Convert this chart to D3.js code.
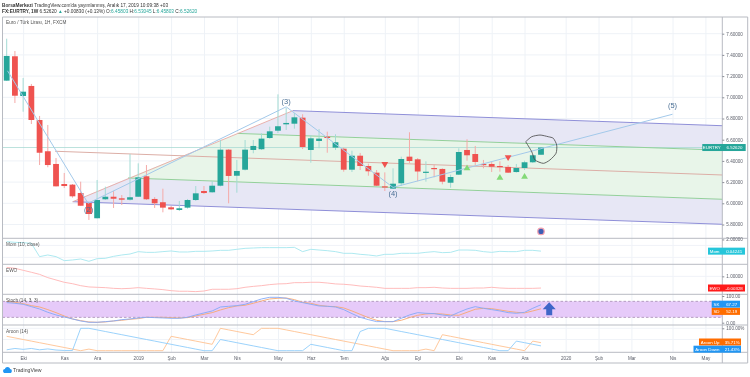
<!DOCTYPE html>
<html>
<head>
<meta charset="utf-8">
<script src="https://cdn.jsdelivr.net/npm/d3@7"></script>
<style>
  html, body { margin: 0; padding: 0; background: #fff; }
  svg { display: block; filter: blur(0.3px); }
  text { font-family: "Liberation Sans", Arial, sans-serif; }
</style>
</head>
<body>
<div id="chart"></div>
<script>
// weekly candles
var open = [7.157,7.387,7.012,7.107,6.786,6.491,6.371,6.182,6.176,6.097,6.003,5.859,6.038,6.062,6.047,6.034,6.062,6.255,6.041,6.010,5.962,5.937,5.959,6.031,6.116,6.104,6.166,6.506,6.260,6.317,6.503,6.510,6.616,6.685,6.745,6.751,6.808,6.503,6.588,6.628,6.525,6.515,6.317,6.449,6.352,6.289,6.160,6.138,6.189,6.440,6.415,6.289,6.333,6.324,6.194,6.270,6.503,6.465,6.371,6.371,6.352,6.343,6.295,6.333,6.387,6.45803];
var high = [7.553,7.437,7.182,7.126,6.824,6.739,6.427,6.286,6.182,6.204,6.003,6.220,6.157,6.116,6.078,6.465,6.377,6.361,6.059,6.138,5.975,6.022,6.041,6.163,6.163,6.210,6.597,6.512,6.409,6.597,6.597,6.660,6.723,7.028,6.899,6.852,6.840,6.644,6.701,6.676,6.651,6.525,6.496,6.475,6.374,6.314,6.292,6.330,6.440,6.670,6.427,6.396,6.364,6.330,6.270,6.519,6.604,6.541,6.409,6.392,6.396,6.361,6.371,6.402,6.456,6.53045];
var low = [7.154,6.946,6.864,6.748,6.361,6.340,6.159,6.144,6.053,5.977,5.843,5.857,6.031,5.956,5.984,6.026,6.059,6.031,5.956,5.915,5.937,5.927,5.950,6.022,6.088,6.100,6.159,6.000,6.100,6.310,6.472,6.503,6.607,6.663,6.692,6.704,6.512,6.383,6.519,6.477,6.503,6.298,6.295,6.314,6.260,6.163,6.116,6.135,6.163,6.380,6.208,6.204,6.245,6.179,6.147,6.267,6.402,6.358,6.330,6.295,6.298,6.286,6.289,6.314,6.380,6.45803];
var close = [7.390,7.015,7.053,6.786,6.477,6.361,6.160,6.163,6.066,5.977,5.899,6.031,6.062,6.043,6.034,6.057,6.245,6.038,6.000,5.959,5.943,5.953,6.031,6.094,6.097,6.166,6.506,6.258,6.305,6.506,6.541,6.610,6.679,6.727,6.758,6.811,6.531,6.613,6.610,6.616,6.576,6.317,6.449,6.352,6.302,6.166,6.154,6.185,6.418,6.399,6.300,6.298,6.324,6.204,6.248,6.484,6.453,6.390,6.364,6.345,6.343,6.289,6.333,6.387,6.453,6.52620];

var momValues = [1.63,1.52,1.46,1.35,-0.88,-0.60,-0.88,-1.55,-1.44,-1.27,-1.66,-1.22,-1.16,-0.83,-0.60,-0.44,-0.04,-0.16,-0.16,-0.04,0.07,-0.10,-0.10,0.01,0.01,0.07,0.18,0.18,0.35,0.51,0.57,0.63,0.63,0.63,0.63,0.68,-0.04,0.35,0.23,0.12,-0.04,-0.32,-0.32,-0.49,-0.60,-0.77,-0.49,-0.49,-0.32,-0.32,-0.32,-0.16,-0.04,-0.21,-0.16,0.23,0.23,0.18,-0.04,-0.16,0.01,-0.04,-0.04,0.18,0.18,0.04241];
var ewoValues = [1.77,1.69,1.52,1.35,1.17,0.89,0.69,0.49,0.37,0.20,0.09,0.06,0.03,-0.03,-0.06,-0.03,0.03,-0.03,-0.08,-0.14,-0.23,-0.28,-0.28,-0.31,-0.26,-0.11,-0.11,-0.11,-0.06,0.06,0.14,0.20,0.29,0.35,0.37,0.46,0.46,0.49,0.49,0.43,0.35,0.32,0.26,0.17,0.12,0.06,-0.03,-0.03,-0.03,-0.03,0.03,0.03,0.06,0,-0.03,-0.03,-0.03,0,0,0.06,0,-0.03,-0.03,-0.03,-0.03,-0.00328];
var stochK = [75.2,72.7,68.9,60.2,51.4,39,29,21.5,14,6.5,1.5,1.5,4,6.5,11.5,14,17.8,20.2,19,17.8,16.5,16.5,20.2,29,36.5,44,58.9,61.4,63.9,68.9,78.9,88.9,95.1,95.1,91.4,81.4,75.2,68.9,62.7,61.4,58.9,49,34,20.2,11.5,4,4,4,16.5,29,37.7,35.2,34,29,25.2,39,51.4,60.2,54,49,44,37.7,35.2,39,54,67.27];
var stochD = [78.9,76.4,71.4,63.9,58.9,49,37.7,25.2,14,7.8,2.8,1.5,2.8,6.5,9,12.8,15.3,20.2,20.2,20.2,19,17.8,19,25.2,31.5,37.7,47.7,56.4,62.7,65.2,72.7,81.4,88.9,91.4,92.6,86.4,76.4,72.7,65.2,61.4,60.2,55.2,44,31.5,19,9,4,4,9,19,27.7,32.7,34,32.7,29,27.7,39,50.2,54,52.7,47.7,42.7,39,36.5,44,52.19];
var aroonUp = [64.29,57.14,50,42.86,35.71,28.57,21.43,14.29,7.14,0,7.14,0,0,0,0,0,0,0,0,0,64.29,57.14,50,42.86,35.71,28.57,100,92.86,85.71,78.57,71.43,100,100,100,92.86,85.71,78.57,71.43,64.29,57.14,50,42.86,35.71,28.57,21.43,14.29,7.14,0,0,0,0,7.14,0,71.43,64.29,57.14,50,42.86,35.71,28.57,21.43,14.29,7.14,0,42.86,35.71];
var aroonDown = [4,10,6,10,4,8,3,1,1,100,100,92.86,85.71,78.57,71.43,64.29,57.14,50,42.86,35.71,28.57,21.43,14.29,7.14,0,0,50,42.86,35.71,28.57,21.43,14.29,7.14,0,0,0,0,28.57,21.43,14.29,7.14,0,0,85.71,100,100,100,92.86,85.71,78.57,71.43,64.29,57.14,50,42.86,35.71,28.57,21.43,14.29,7.14,0,0,42.86,35.71,28.57,21.43];

var priceTicks = [7.6,7.4,7.2,7.0,6.8,6.6,6.4,6.2,6.0,5.8];
var timeTickIndex = [2,7,11,16,20,24,28,33,37,41,46,50,55,59,63,68,72,76,81,85];
var timeTickLabels = ["Eki","Kas","Ara","2019","Şub","Mar","Nis","May","Haz","Tem","Ağu","Eyl","Eki","Kas","Ara","2020","Şub","Mar","Nis","May"];

// drawings, as [candle index, price]
var waveLine = [[0.1,7.25],[9.9,6.0],[34,6.91],[47,6.15],[81,6.84]];
var waveLabels = [["(2)",9.97,5.915],["(3)",34,6.94],["(4)",47,6.07],["(5)",81,6.90]];
var forkHandle = [5.88,6.491];
var forkTop = [34.83,6.874];
var forkBottom = [8.03,6.015];
var forkUpperInner = [28.14,6.659];
var forkLowerInner = [14.76,6.239];
var forkEndIndex = 87.06;
var forkEndPrices = [6.732,6.501,6.267,6.038,5.802];
var handCircle = [[63.14,6.581],[63.87,6.628],[64.88,6.644],[65.89,6.628],[66.5,6.613],[66.91,6.55],[66.83,6.472],[66.09,6.409],[65.28,6.377],[64.27,6.409],[63.87,6.487],[63.14,6.581]];
var sellMarks = [[46,6.37],[61,6.435]];
var buyMarks = [[56,6.33],[60,6.24],[63,6.25]];

var width = 750, height = 377;
var plotLeft = 2.5, plotRight = 722.3, outerRight = 747.7;
var paneLines = [17,238.3,264.3,294.3,325,352.3,363];

var svg = d3.select("#chart").append("svg")
  .attr("width", width)
  .attr("height", height);

var x = d3.scaleLinear().domain([0,65]).range([6.7,541]);
var y = d3.scaleLinear().domain([7.6,5.8]).range([33.7,224.5]);
var yMom = d3.scaleLinear().domain([0,2]).range([251.4,239.46]);
var yEwo = d3.scaleLinear().domain([0,2]).range([288,264.7]);
var yStoch = d3.scaleLinear().domain([0,100]).range([322.7,296]);
var yAroon = d3.scaleLinear().domain([0,100]).range([350.7,328.3]);

var axisFont = 4.6, axisColor = "#5d606b";

// vertical grid + time labels
var timeLabel = d3.scaleOrdinal().domain(timeTickIndex).range(timeTickLabels);
var xAxis = d3.axisBottom(x)
  .tickValues(timeTickIndex)
  .tickSize(paneLines[5] - paneLines[0])
  .tickFormat(function(d) { return timeLabel(d); });
var gx = svg.append("g")
  .attr("transform", "translate(0," + paneLines[0] + ")")
  .call(xAxis);
gx.select(".domain").remove();
gx.selectAll("line").attr("stroke", "#eef2f7");
gx.selectAll("text")
  .attr("font-size", axisFont).attr("fill", axisColor).attr("dy", "0.71em")
  .attr("y", 359.4 - paneLines[0] - 2.7);

// horizontal grid, main pane
svg.append("g").selectAll("line")
  .data(priceTicks)
  .enter().append("line")
  .attr("x1", plotLeft).attr("x2", plotRight)
  .attr("y1", function(d) { return y(d); }).attr("y2", function(d) { return y(d); })
  .attr("stroke", "#eef2f7");

// faint grid in the lower panes
[[yMom,[1,-1]],[yEwo,[1]],[yAroon,[50,100]]].forEach(function(p) {
  p[1].forEach(function(v) {
    svg.append("line").attr("x1", plotLeft).attr("x2", plotRight)
      .attr("y1", p[0](v)).attr("y2", p[0](v)).attr("stroke", "#f0f3f8");
  });
});

var pt = function(p) { return [x(p[0]), y(p[1])]; };
var poly = d3.line();

// pitchfork fills
var endPts = forkEndPrices.map(function(p) { return pt([forkEndIndex,p]); });
svg.append("path")
  .attr("d", poly([pt(forkTop),endPts[0],endPts[1],pt(forkUpperInner)]) + "Z")
  .attr("fill", "#e7e7f5");
svg.append("path")
  .attr("d", poly([pt(forkUpperInner),endPts[1],endPts[3],pt(forkLowerInner)]) + "Z")
  .attr("fill", "#e8f5e9");
svg.append("path")
  .attr("d", poly([pt(forkLowerInner),endPts[3],endPts[4],pt(forkBottom)]) + "Z")
  .attr("fill", "#e7e7f5");

// last price line
svg.append("line").attr("x1", plotLeft).attr("x2", plotRight)
  .attr("y1", y(close[65])).attr("y2", y(close[65]))
  .attr("stroke", "#a9d9d3").attr("stroke-width", 0.8);

// pitchfork lines
var forkLine = function(a, b, color) {
  svg.append("path").attr("d", poly([pt(a),b])).attr("fill", "none")
    .attr("stroke", color).attr("stroke-width", 1);
};
forkLine(forkTop, endPts[0], "#8f8fd8");
forkLine(forkUpperInner, endPts[1], "#93d09a");
forkLine(forkHandle, endPts[2], "#dcaea6");
forkLine(forkLowerInner, endPts[3], "#93d09a");
forkLine(forkBottom, endPts[4], "#8f8fd8");
svg.append("path").attr("d", poly([pt(forkBottom),pt(forkTop)])).attr("fill", "none")
  .attr("stroke", "#e8a9a4").attr("stroke-width", 0.9);

// candles
var candles = svg.append("g").selectAll("g")
  .data(d3.range(open.length))
  .enter().append("g");
var candleColor = function(i) { return close[i] >= open[i] ? "#26a69a" : "#ef5350"; };
candles.append("line")
  .attr("x1", function(i) { return x(i); }).attr("x2", function(i) { return x(i); })
  .attr("y1", function(i) { return y(high[i]); }).attr("y2", function(i) { return y(low[i]); })
  .attr("stroke", function(i) { return close[i] >= open[i] ? "#a3dbd4" : "#f5aaa8"; })
  .attr("stroke-width", 1);
candles.append("rect")
  .attr("x", function(i) { return x(i) - 2.9; })
  .attr("width", 5.8)
  .attr("y", function(i) { return y(Math.max(open[i],close[i])); })
  .attr("height", function(i) { return Math.max(1.2, Math.abs(y(open[i]) - y(close[i]))); })
  .attr("fill", candleColor);

// elliott wave line
svg.append("path").attr("d", poly(waveLine.map(pt))).attr("fill", "none")
  .attr("stroke", "#a3c9ea").attr("stroke-width", 1);
svg.selectAll(".wave").data(waveLabels).enter().append("text")
  .attr("class", "wave")
  .attr("x", function(d) { return x(d[1]); })
  .attr("y", function(d) { return y(d[2]); })
  .attr("text-anchor", "middle")
  .attr("font-size", 7.5).attr("fill", "#4a6f94")
  .text(function(d) { return d[0]; });

// triangles
var triangle = d3.symbol().type(d3.symbolTriangle).size(20);
svg.selectAll(".sell").data(sellMarks).enter().append("path")
  .attr("class", "sell").attr("d", triangle).attr("fill", "#ef5350")
  .attr("transform", function(d) { return "translate(" + x(d[0]) + "," + y(d[1]) + ") rotate(180)"; });
svg.selectAll(".buy").data(buyMarks).enter().append("path")
  .attr("class", "buy").attr("d", triangle).attr("fill", "#83d977")
  .attr("transform", function(d) { return "translate(" + x(d[0]) + "," + y(d[1]) + ")"; });

// hand drawn circle
svg.append("path")
  .attr("d", d3.line().curve(d3.curveCardinal.tension(0.3))(handCircle.map(pt)))
  .attr("fill", "none").attr("stroke", "#444").attr("stroke-width", 0.8);

// small event icon
svg.append("circle").attr("cx", x(65)).attr("cy", y(5.735)).attr("r", 3.2)
  .attr("fill", "#3c5fb5").attr("stroke", "#f2a0b0").attr("stroke-width", 1.3);

// stoch band
svg.append("rect").attr("x", plotLeft).attr("width", plotRight - plotLeft)
  .attr("y", yStoch(80)).attr("height", yStoch(20) - yStoch(80))
  .attr("fill", "#e6caf9");
[80,20].forEach(function(v) {
  svg.append("line").attr("x1", plotLeft).attr("x2", plotRight)
    .attr("y1", yStoch(v)).attr("y2", yStoch(v))
    .attr("stroke", "#9b7fa8").attr("stroke-width", 0.7).attr("stroke-dasharray", "2.5,2");
});

// indicator lines
var drawSeries = function(values, scale, color) {
  var line = d3.line()
    .x(function(d, i) { return x(i); })
    .y(function(d) { return scale(d); });
  svg.append("path").attr("d", line(values)).attr("fill", "none")
    .attr("stroke", color).attr("stroke-width", 0.9);
};
drawSeries(momValues, yMom, "#a5e6ee");
drawSeries(ewoValues, yEwo, "#ffb4b4");
drawSeries(stochD, yStoch, "#f7a872");
drawSeries(stochK, yStoch, "#83a9f7");
drawSeries(aroonUp, yAroon, "#ffc291");
drawSeries(aroonDown, yAroon, "#90cdfb");

// up arrow in the stoch pane
svg.append("path")
  .attr("d", d3.line()([[0,-7],[6.5,0],[3,0],[3,6],[-3,6],[-3,0],[-6.5,0]]) + "Z")
  .attr("transform", "translate(" + x(66) + "," + yStoch(50) + ")")
  .attr("fill", "#3f66c8");

// pane frame
svg.append("g").selectAll("line").data(paneLines)
  .enter().append("line")
  .attr("x1", plotLeft).attr("x2", outerRight)
  .attr("y1", function(d) { return d; }).attr("y2", function(d) { return d; })
  .attr("stroke", "#b8bbc2").attr("stroke-width", 1);
[plotLeft, plotRight, outerRight].forEach(function(v) {
  svg.append("line").attr("x1", v).attr("x2", v)
    .attr("y1", paneLines[0]).attr("y2", paneLines[6])
    .attr("stroke", "#b8bbc2").attr("stroke-width", 1);
});

// right axes
var rightAxis = function(scale, ticks, fmt) {
  var axis = d3.axisRight(scale).tickValues(ticks).tickSize(2).tickPadding(2).tickFormat(fmt);
  var g = svg.append("g").attr("transform", "translate(" + plotRight + ",0)").call(axis);
  g.select(".domain").remove();
  g.selectAll("line").attr("stroke", "#8a8d96");
  g.selectAll("text").attr("font-size", axisFont).attr("fill", axisColor);
};
rightAxis(y, priceTicks, d3.format(".5f"));
rightAxis(yMom, [2], d3.format(".5f"));
rightAxis(yEwo, [1], d3.format(".5f"));
rightAxis(yStoch, [100,0], d3.format(".2f"));
rightAxis(yAroon, [100], function(d) { return d3.format(".2f")(d) + "%"; });

// value tags at the axis
var tags = [
  ["EURTRY", "6.52620", "#26a69a", 702.3, 745.7],
  ["Mom", "0.04241", "#26c6da", 708, 745],
  ["EWO", "-0.00328", "#ff1a1a", 708, 745],
  ["SK", "67.27", "#2196f3", 711.7, 740],
  ["SD", "52.19", "#ff6d00", 711.7, 740],
  ["Aroon Up", "35.71%", "#ff6d00", 699, 741],
  ["Aroon Down", "21.43%", "#2196f3", 693.5, 741]
];
// the stoch and aroon tags are pushed apart so that they stay readable
var tagY = [y(close[65]), yMom(momValues[65]), 288, 304.2, 311.4, 342, 349.2];
tags.forEach(function(t, i) {
  var g = svg.append("g");
  g.append("rect").attr("x", t[3]).attr("y", tagY[i] - 3.5)
    .attr("width", t[4] - t[3]).attr("height", 7).attr("fill", t[2]);
  g.append("text").attr("x", (t[3] + plotRight) / 2 - 0.5).attr("y", tagY[i] + 1.6)
    .attr("text-anchor", "middle").attr("font-size", 4.4).attr("fill", "#fff").text(t[0]);
  g.append("text").attr("x", (t[4] + plotRight) / 2 + 0.5).attr("y", tagY[i] + 1.6)
    .attr("text-anchor", "middle").attr("font-size", 4.4).attr("fill", "#fff").text(t[1]);
});

// pane titles
[["Euro / Türk Lirası, 1H, FXCM",24.4],["Mom (10, close)",246],["EWO",271.6],["Stoch (14, 3, 3)",302.3],["Aroon (14)",333.3]].forEach(function(t) {
  svg.append("text").attr("x", 6).attr("y", t[1])
    .attr("font-size", 4.7).attr("fill", "#555").text(t[0]);
});

// header
var head1 = svg.append("text").attr("x", 2).attr("y", 6.8).attr("font-size", 4.75).attr("fill", "#333");
head1.append("tspan").attr("font-weight", "bold").text("BorsaMerkezi ");
head1.append("tspan").text("TradingView.com'da yayımlanmış, Aralık 17, 2019 10:09:38 +03");

var head2 = svg.append("text").attr("x", 2).attr("y", 12.5).attr("font-size", 4.75).attr("fill", "#333");
head2.append("tspan").attr("font-weight", "bold").text("FX:EURTRY, 1W ");
head2.append("tspan").text("6.52620 ");
head2.append("tspan").attr("fill", "#26a69a").text("▲ ");
head2.append("tspan").text("+0.00830 (+0.13%) ");
[["O:","6.45803"],["H:","6.53045"],["L:","6.45803"],["C:","6.52620"]].forEach(function(o) {
  head2.append("tspan").text(o[0]);
  head2.append("tspan").attr("fill", "#26a69a").text(o[1] + " ");
});

// TradingView logo
var logo = svg.append("g").attr("fill", "#2196f3");
logo.append("circle").attr("cx", 5).attr("cy", 371).attr("r", 2);
logo.append("circle").attr("cx", 7.5).attr("cy", 369.5).attr("r", 2.6);
logo.append("circle").attr("cx", 10).attr("cy", 371).attr("r", 1.9);
logo.append("rect").attr("x", 4).attr("y", 371).attr("width", 7).attr("height", 2);
svg.append("text").attr("x", 13).attr("y", 372)
  .attr("font-size", 5.2).attr("fill", "#444").text("TradingView");
</script>
</body>
</html>
